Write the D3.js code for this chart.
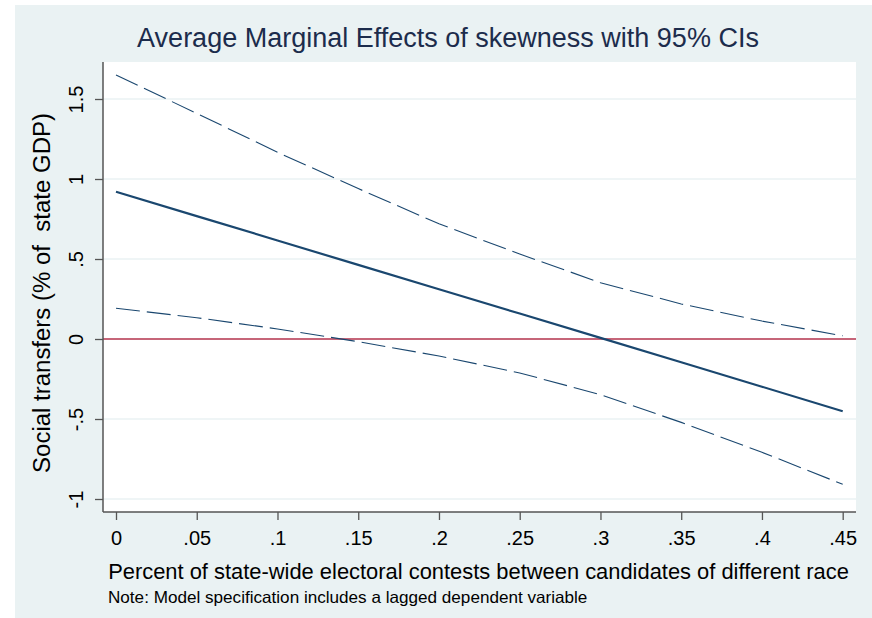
<!DOCTYPE html>
<html>
<head>
<meta charset="utf-8">
<script src="https://d3js.org/d3.v7.min.js"></script>
<style>
  html, body { margin: 0; padding: 0; background: #ffffff; }
  svg { display: block; font-family: "Liberation Sans", Arial, sans-serif; }
</style>
</head>
<body>
<script>
// Share of contests (x) at which the margins were evaluated
const atValues = [0, 0.05, 0.10, 0.15, 0.20, 0.25, 0.30, 0.35, 0.40, 0.45];
// Average marginal effect of skewness and its 95% confidence bounds
const effect = [0.920, 0.768, 0.616, 0.463, 0.311, 0.159, 0.007, -0.145, -0.298, -0.452];
const upper  = [1.650, 1.410, 1.167, 0.940, 0.720, 0.531, 0.352, 0.219, 0.112, 0.020];
const lower  = [0.192, 0.133, 0.063, -0.017, -0.106, -0.212, -0.348, -0.521, -0.708, -0.908];
// Axis ticks and labels
const xTicks = [0, 0.05, 0.10, 0.15, 0.20, 0.25, 0.30, 0.35, 0.40, 0.45];
const xTickLabels = ["0", ".05", ".1", ".15", ".2", ".25", ".3", ".35", ".4", ".45"];
const yTicks = [-1, -0.5, 0, 0.5, 1, 1.5];
const yTickLabels = ["-1", "-.5", "0", ".5", "1", "1.5"];

const W = 872, H = 618;
const plot = { left: 103, right: 856, top: 62, bottom: 512 };
const FONT = "'Liberation Sans', Arial, sans-serif";

const svg = d3.select("body").append("svg")
  .attr("width", W).attr("height", H);

// Scale a text element's font size so that it spans the given width
function fitWidth(sel, width) {
  const node = sel.node();
  const fs = parseFloat(sel.attr("font-size"));
  const len = node.getComputedTextLength();
  if (len > 0) sel.attr("font-size", (fs * width / len).toFixed(2));
  return sel;
}

// Graph region background
svg.append("rect")
  .attr("x", 15).attr("y", 5).attr("width", W - 15).attr("height", H - 5)
  .attr("fill", "#eaf2f3");

// Plot region
svg.append("rect")
  .attr("x", plot.left).attr("y", plot.top)
  .attr("width", plot.right - plot.left).attr("height", plot.bottom - plot.top)
  .attr("fill", "#ffffff");

const x = d3.scaleLinear().domain([0, 0.45]).range([116, 842.7]);
const y = d3.scaleLinear().domain([-1, 1.5]).range([499, 99]);

// Horizontal grid lines
svg.append("g").selectAll("line").data(yTicks).join("line")
  .attr("x1", plot.left).attr("x2", plot.right)
  .attr("y1", d => y(d)).attr("y2", d => y(d))
  .attr("stroke", "#eaf2f3").attr("stroke-width", 1.6);

// Reference line at zero
svg.append("line")
  .attr("x1", plot.left).attr("x2", plot.right)
  .attr("y1", y(0)).attr("y2", y(0))
  .attr("stroke", "#b8344f").attr("stroke-width", 1.3);

const line = d3.line().x((d, i) => x(atValues[i])).y(d => y(d));

// Confidence bounds
[upper, lower].forEach(series => {
  svg.append("path")
    .attr("d", line(series))
    .attr("fill", "none")
    .attr("stroke", "#1a476f")
    .attr("stroke-width", 1.1)
    .attr("stroke-dasharray", "24,7");
});

// Point estimates
svg.append("path")
  .attr("d", line(effect))
  .attr("fill", "none")
  .attr("stroke", "#1a476f")
  .attr("stroke-width", 2.2);

// Axes
const axisColor = "#555555";
const xAxis = d3.axisBottom(x).tickValues(xTicks)
  .tickFormat((d, i) => xTickLabels[i]).tickSize(8).tickPadding(11);
const gx = svg.append("g").attr("transform", `translate(0,${plot.bottom})`).call(xAxis);
gx.select(".domain").remove();
gx.selectAll(".tick line").attr("stroke", axisColor).attr("stroke-width", 1.3);
gx.selectAll(".tick text").attr("font-size", 20).attr("fill", "#000")
  .attr("font-family", FONT);
svg.append("line")
  .attr("x1", plot.left).attr("x2", plot.right)
  .attr("y1", plot.bottom).attr("y2", plot.bottom)
  .attr("stroke", axisColor).attr("stroke-width", 1.5);

const yAxis = d3.axisLeft(y).tickValues(yTicks)
  .tickFormat((d, i) => yTickLabels[i]).tickSize(8).tickPadding(0);
const gy = svg.append("g").attr("transform", `translate(${plot.left},0)`).call(yAxis);
gy.select(".domain").remove();
gy.selectAll(".tick line").attr("stroke", axisColor).attr("stroke-width", 1.3);
gy.selectAll(".tick text")
  .attr("font-size", 20).attr("fill", "#000")
  .attr("font-family", FONT)
  .attr("x", null).attr("dy", null)
  .attr("text-anchor", "middle")
  .attr("transform", "translate(-20.5,0) rotate(-90)");
svg.append("line")
  .attr("x1", plot.left).attr("x2", plot.left)
  .attr("y1", plot.top).attr("y2", plot.bottom)
  .attr("stroke", axisColor).attr("stroke-width", 1.5);

// Titles
fitWidth(svg.append("text")
  .attr("x", 448).attr("y", 47)
  .attr("text-anchor", "middle")
  .attr("font-size", 25).attr("fill", "#1c2c4c")
  .text("Average Marginal Effects of skewness with 95% CIs"), 622);

fitWidth(svg.append("text")
  .attr("x", 478.5).attr("y", 579)
  .attr("text-anchor", "middle")
  .attr("font-size", 20).attr("fill", "#000")
  .text("Percent of state-wide electoral contests between candidates of different race"), 741);

fitWidth(svg.append("text")
  .attr("transform", "translate(50,293) rotate(-90)")
  .attr("text-anchor", "middle")
  .attr("font-size", 22).attr("fill", "#000")
  .attr("xml:space", "preserve")
  .style("white-space", "pre")
  .text("Social transfers (% of  state GDP)"), 360);

// Footnote, sized from the width of its leading words
const note = svg.append("text")
  .attr("x", 108).attr("y", 603)
  .attr("font-size", 16).attr("fill", "#000");
note.append("tspan").attr("class", "lead").text("Note: Model specification includes a");
note.append("tspan").text(" lagged dependent variable");
{
  const lead = note.select("tspan.lead").node();
  const len = lead.getComputedTextLength();
  if (len > 0) note.attr("font-size", (16 * 273 / len).toFixed(2));
}
</script>
</body>
</html>
